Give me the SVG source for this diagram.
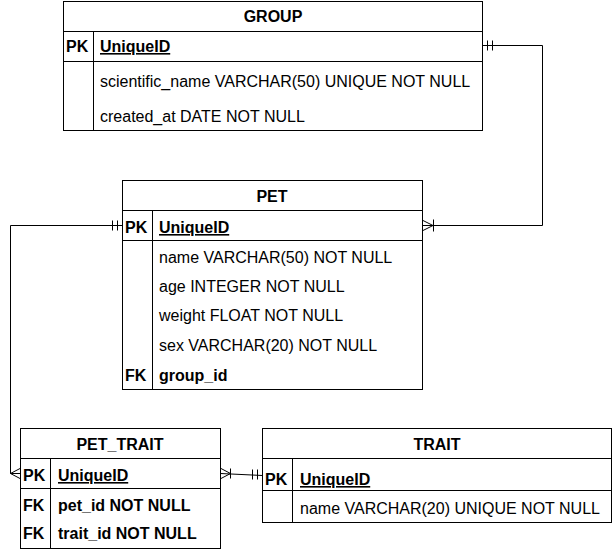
<svg xmlns="http://www.w3.org/2000/svg" width="613" height="552" viewBox="0 0 613 552">
<style>
.box{fill:#fff;stroke:#000;stroke-width:1}
.ln{stroke:#000;stroke-width:1;fill:none}
.conn{stroke:#000;stroke-width:1;fill:none}
text{font-family:"Liberation Sans",Arial,Helvetica,sans-serif;font-size:16px;fill:#000}
.h{font-weight:bold;text-anchor:middle}
.k{font-weight:bold}
.u{font-weight:bold;text-decoration:underline}
</style>
<rect width="613" height="552" fill="#fff"/>
<g id="GROUP">
<rect class="box" x="63.5" y="1.5" width="419" height="129"/>
<line class="ln" x1="63.5" y1="31.5" x2="482.5" y2="31.5"/>
<line class="ln" x1="63.5" y1="61.5" x2="482.5" y2="61.5"/>
<line class="ln" x1="93.5" y1="31.5" x2="93.5" y2="130.5"/>
<text class="h" x="273" y="22">GROUP</text>
<text class="k" x="66" y="52">PK</text>
<text class="u" x="100" y="52">UniqueID</text>
<text x="100" y="87">scientific_name VARCHAR(50) UNIQUE NOT NULL</text>
<text x="100" y="122">created_at DATE NOT NULL</text>
</g>
<g id="PET">
<rect class="box" x="122.5" y="180.5" width="300" height="209"/>
<line class="ln" x1="122.5" y1="210.5" x2="422.5" y2="210.5"/>
<line class="ln" x1="122.5" y1="240.5" x2="422.5" y2="240.5"/>
<line class="ln" x1="152.5" y1="210.5" x2="152.5" y2="389.5"/>
<text class="h" x="272" y="202">PET</text>
<text class="k" x="125" y="233">PK</text>
<text class="u" x="159" y="233">UniqueID</text>
<text x="159" y="263">name VARCHAR(50) NOT NULL</text>
<text x="159" y="292">age INTEGER NOT NULL</text>
<text x="159" y="321">weight FLOAT NOT NULL</text>
<text x="159" y="351">sex VARCHAR(20) NOT NULL</text>
<text class="k" x="125" y="381">FK</text>
<text class="k" x="159" y="381">group_id</text>
</g>
<g id="PET_TRAIT">
<rect class="box" x="20.5" y="428.5" width="200" height="120"/>
<line class="ln" x1="20.5" y1="458.5" x2="220.5" y2="458.5"/>
<line class="ln" x1="20.5" y1="488.5" x2="220.5" y2="488.5"/>
<line class="ln" x1="50.5" y1="458.5" x2="50.5" y2="548.5"/>
<text class="h" x="120" y="450">PET_TRAIT</text>
<text class="k" x="23" y="481">PK</text>
<text class="u" x="58" y="481">UniqueID</text>
<text class="k" x="23" y="511">FK</text>
<text class="k" x="58" y="511">pet_id NOT NULL</text>
<text class="k" x="23" y="539">FK</text>
<text class="k" x="58" y="539">trait_id NOT NULL</text>
</g>
<g id="TRAIT">
<rect class="box" x="262.5" y="428.5" width="349" height="94"/>
<line class="ln" x1="262.5" y1="458.5" x2="611.5" y2="458.5"/>
<line class="ln" x1="262.5" y1="490.5" x2="611.5" y2="490.5"/>
<line class="ln" x1="292.5" y1="458.5" x2="292.5" y2="522.5"/>
<text class="h" x="437" y="450">TRAIT</text>
<text class="k" x="265" y="485">PK</text>
<text class="u" x="300" y="485">UniqueID</text>
<text x="300" y="514">name VARCHAR(20) UNIQUE NOT NULL</text>
</g>
<g id="connectors">
<path class="conn" d="M482.5 45.5 H542.5 V225.5 H422.5"/>
<line class="conn" x1="487.5" y1="40.5" x2="487.5" y2="50.5"/>
<line class="conn" x1="492.5" y1="40.5" x2="492.5" y2="50.5"/>
<path class="conn" d="M423 220.5 L433 225.5 L423 230.5"/>
<line class="conn" x1="433.5" y1="219.5" x2="433.5" y2="231.5"/>
<path class="conn" d="M122.5 225.5 H10.5 V473.5 H20.5"/>
<line class="conn" x1="112.5" y1="220.5" x2="112.5" y2="230.5"/>
<line class="conn" x1="117.5" y1="220.5" x2="117.5" y2="230.5"/>
<path class="conn" d="M20 468.5 L10.5 473.5 L20 478.5"/>
<path class="conn" d="M220.5 473.5 L262.5 475.5"/>
<path class="conn" d="M221 468.5 L230.5 473.5 L221 478.5"/>
<line class="conn" x1="230.5" y1="468.5" x2="230.5" y2="478.5"/>
<line class="conn" x1="252.5" y1="469.5" x2="252.5" y2="479.5"/>
<line class="conn" x1="257.5" y1="469.5" x2="257.5" y2="479.5"/>
</g>
</svg>
